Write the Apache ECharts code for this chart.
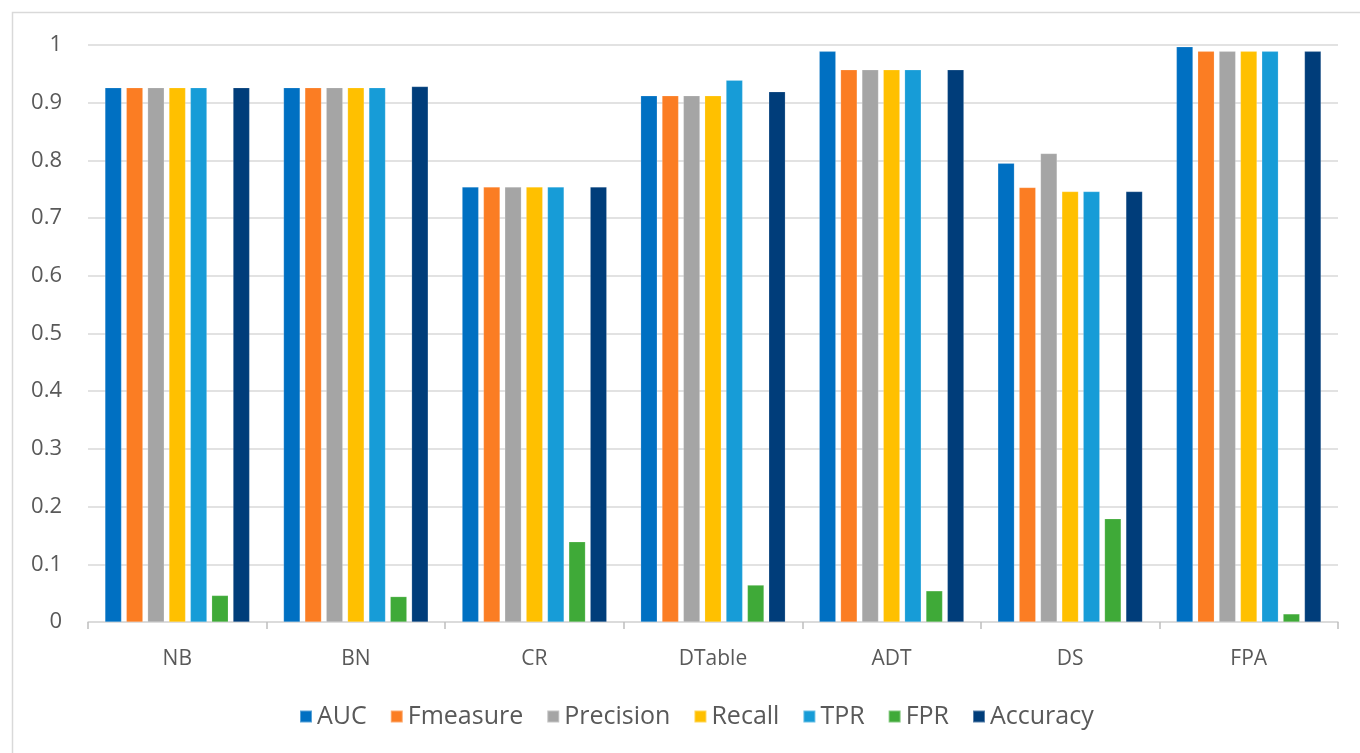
<!DOCTYPE html>
<html>
<head>
<meta charset="utf-8">
<script src="https://cdn.jsdelivr.net/npm/echarts@6/dist/echarts.min.js"></script>
<style>
  html, body { margin: 0; padding: 0; background: #ffffff; }
  #chart { width: 1360px; height: 753px; }
</style>
</head>
<body>
<div id="chart"></div>
<script>
// Classifier comparison: metric scores per method
const categories = ['NB', 'BN', 'CR', 'DTable', 'ADT', 'DS', 'FPA'];
const yTicks = { min: 0, max: 1, interval: 0.1 };

const auc       = [0.926, 0.926, 0.754, 0.912, 0.989, 0.795, 0.997];
const fmeasure  = [0.926, 0.926, 0.754, 0.912, 0.957, 0.753, 0.989];
const precision = [0.926, 0.926, 0.754, 0.912, 0.957, 0.812, 0.989];
const recall    = [0.926, 0.926, 0.754, 0.912, 0.957, 0.746, 0.989];
const tpr       = [0.926, 0.926, 0.754, 0.939, 0.957, 0.746, 0.989];
const fpr       = [0.046, 0.044, 0.139, 0.064, 0.054, 0.179, 0.014];
const accuracy  = [0.926, 0.928, 0.754, 0.919, 0.957, 0.746, 0.989];

const seriesDefs = [
  { name: 'AUC',       data: auc,       color: '#0070C2' },
  { name: 'Fmeasure',  data: fmeasure,  color: '#FB7D23' },
  { name: 'Precision', data: precision, color: '#A5A5A5' },
  { name: 'Recall',    data: recall,    color: '#FFC000' },
  { name: 'TPR',       data: tpr,       color: '#179CD7' },
  { name: 'FPR',       data: fpr,       color: '#3FAA38' },
  { name: 'Accuracy',  data: accuracy,  color: '#003D7A' }
];

const textColor = '#595959';
const fontFamily = '"Open Sans", "Noto Sans", sans-serif';

const chart = echarts.init(document.getElementById('chart'), null, { renderer: 'canvas' });

chart.setOption({
  backgroundColor: '#ffffff',
  animation: false,
  graphic: [{
    type: 'rect',
    left: 10, top: 10,
    shape: { width: 1370, height: 760 },
    style: { fill: 'none', stroke: '#d9d9d9', lineWidth: 1.5 },
    silent: true,
    z: -1
  }],
  grid: { left: 88, right: 22, top: 45, bottom: 131, containLabel: false },
  legend: {
    bottom: 19,
    left: 294,
    icon: 'rect',
    itemWidth: 12,
    itemHeight: 12,
    itemGap: 23,
    textStyle: { color: textColor, fontSize: 25, fontFamily: fontFamily, padding: [0, 0, 0, 0] },
    data: seriesDefs.map(s => s.name)
  },
  xAxis: {
    type: 'category',
    data: categories,
    axisLine: { lineStyle: { color: '#d9d9d9', width: 1.5 } },
    axisTick: { show: true, length: 7, lineStyle: { color: '#bfbfbf', width: 1.5 } },
    axisLabel: { color: textColor, fontSize: 21, fontFamily: fontFamily, margin: 27 }
  },
  yAxis: {
    type: 'value',
    min: yTicks.min,
    max: yTicks.max,
    interval: yTicks.interval,
    axisLine: { show: false },
    axisTick: { show: false },
    splitLine: { lineStyle: { color: '#d9d9d9', width: 1.5 } },
    axisLabel: {
      color: textColor, fontSize: 22, fontFamily: fontFamily, margin: 26,
      formatter: v => (Math.round(v * 10) / 10).toString()
    }
  },
  series: seriesDefs.map(s => ({
    name: s.name,
    type: 'bar',
    data: s.data,
    barGap: '29%',
    barCategoryGap: '19%',
    itemStyle: { color: s.color, borderColor: 'rgba(255,255,255,0.35)', borderWidth: 0.5 }
  }))
});
</script>
</body>
</html>
